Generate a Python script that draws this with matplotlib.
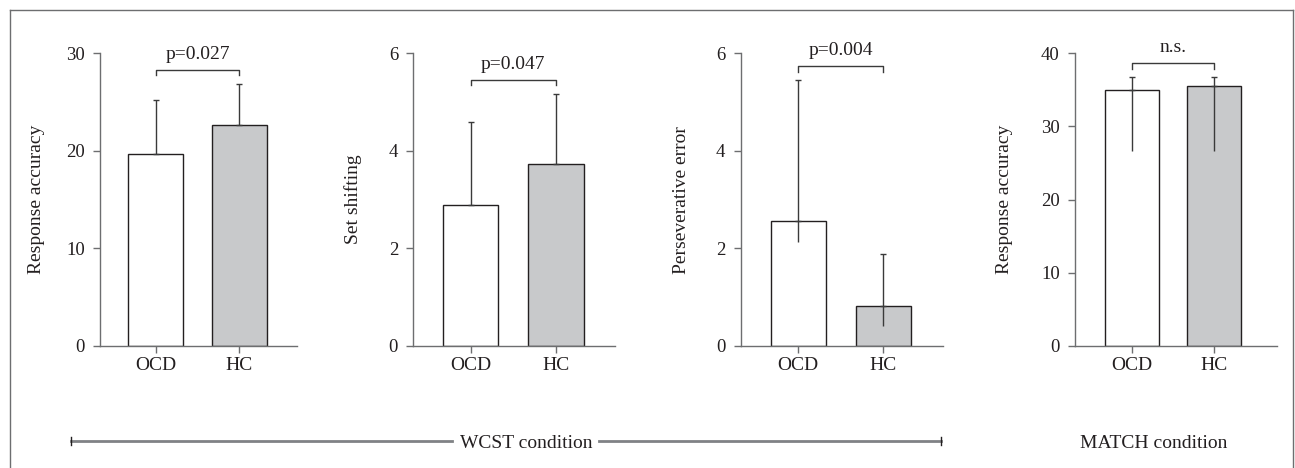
import matplotlib
matplotlib.use("Agg")
import matplotlib.pyplot as plt
import numpy as np
from matplotlib.lines import Line2D

plt.rcParams['font.family'] = ['Liberation Serif', 'DejaVu Serif']

# ---------------- data ----------------
groups = ["OCD", "HC"]
ylabels = ["Response accuracy", "Set shifting", "Perseverative error", "Response accuracy"]
p_labels = ["p=0.027", "p=0.047", "p=0.004", "n.s."]
yticks_list = [[0, 10, 20, 30], [0, 2, 4, 6], [0, 2, 4, 6], [0, 10, 20, 30, 40]]

accuracy_wcst = [19.7, 22.6]
accuracy_wcst_err_up = [5.5, 4.3]
accuracy_wcst_err_down = [0.0, 0.0]

set_shifting = [2.9, 3.73]
set_shifting_err_up = [1.7, 1.44]
set_shifting_err_down = [0.0, 0.0]

persev_error = [2.56, 0.81]
persev_error_err_up = [2.89, 1.08]
persev_error_err_down = [0.43, 0.41]

accuracy_match = [35.0, 35.5]
accuracy_match_err_up = [1.75, 1.2]
accuracy_match_err_down = [8.3, 8.9]

condition_labels = ["WCST condition", "MATCH condition"]

means = [accuracy_wcst, set_shifting, persev_error, accuracy_match]
errs_up = [accuracy_wcst_err_up, set_shifting_err_up, persev_error_err_up, accuracy_match_err_up]
errs_down = [accuracy_wcst_err_down, set_shifting_err_down, persev_error_err_down, accuracy_match_err_down]

# ---------------- layout (pixels) ----------------
W, H = 1295, 468
fig = plt.figure(figsize=(W / 100, H / 100), dpi=100)

axes_px = [(100, 297), (413.3, 615), (740.7, 942.7), (1075, 1276.7)]
xlims = [(-0.661, 1.685), (-0.669, 1.69), (-0.676, 1.70), (-0.686, 1.755)]
label_off = [55, 51.6, 50.7, 61.7]
top_px, bot_px = 53.3, 346

txt_col = "#231f20"
spine_col = "#6d6e70"
edge_col = "#231f20"
err_col = "#3a3a3a"
fills = ["white", "#c8c9cb"]
bar_w = 0.65

for i in range(4):
    l, r = axes_px[i]
    ax = fig.add_axes([l / W, (H - bot_px) / H, (r - l) / W, (bot_px - top_px) / H])
    x = np.arange(len(groups))
    ax.bar(x, means[i], width=bar_w, color=fills, edgecolor=edge_col, linewidth=1.0, zorder=2)
    ax.errorbar(x, means[i], yerr=[np.zeros(2), errs_up[i]], fmt='none', ecolor=err_col,
                elinewidth=1.0, capsize=2.2, capthick=1.0, zorder=3)
    ax.errorbar(x, means[i], yerr=[errs_down[i], np.zeros(2)], fmt='none', ecolor=err_col,
                elinewidth=1.0, capsize=0, zorder=3)
    ymax = yticks_list[i][-1]
    ax.set_ylim(0, ymax)
    ax.set_xlim(*xlims[i])
    ax.set_yticks(yticks_list[i])
    ax.set_xticks(x)
    ax.set_xticklabels(groups)
    for s in ["top", "right"]:
        ax.spines[s].set_visible(False)
    for s in ["left", "bottom"]:
        ax.spines[s].set_color(spine_col)
        ax.spines[s].set_linewidth(1.0)
    ax.tick_params(axis='y', direction='out', length=5, width=1.0, color=spine_col,
                   labelsize=13.5, labelcolor=txt_col, pad=6)
    ax.tick_params(axis='x', direction='out', length=5, width=1.0, color=spine_col,
                   labelsize=14, labelcolor=txt_col, pad=3)
    ax.set_ylabel(ylabels[i], fontsize=14, color=txt_col)
    ax.yaxis.set_label_coords(-label_off[i] / (r - l), 0.5)

    tops = np.array(means[i]) + np.array(errs_up[i])
    by = tops.max() + 0.047 * ymax
    leg = 0.018 * ymax
    ax.plot([x[0], x[0], x[1], x[1]], [by - leg, by, by, by - leg], color=err_col,
            lw=1.0, clip_on=False, zorder=4)
    ax.annotate(p_labels[i], xy=((x[0] + x[1]) / 2, by), xytext=(0, 8),
                textcoords='offset points', ha='center', va='baseline',
                fontsize=14, color=txt_col, annotation_clip=False)

# ---------------- outer frame ----------------
frame_col = "#6d6e70"
def fx(px):
    return px / W
def fy(py):
    return (H - py) / H
fig.add_artist(Line2D([fx(10), fx(10)], [fy(10), fy(470)], color=frame_col, lw=1.0))
fig.add_artist(Line2D([fx(10), fx(1293)], [fy(10), fy(10)], color=frame_col, lw=1.0))
fig.add_artist(Line2D([fx(1293), fx(1293)], [fy(10), fy(470)], color=frame_col, lw=1.0))

# ---------------- condition labels ----------------
line_y = 441
line_col = "#808285"
fig.add_artist(Line2D([fx(70.7), fx(451.7)], [fy(line_y), fy(line_y)], color=line_col, lw=2.0))
fig.add_artist(Line2D([fx(599), fx(941)], [fy(line_y), fy(line_y)], color=line_col, lw=2.0))
for xe in (70.7, 941):
    fig.add_artist(Line2D([fx(xe), fx(xe)], [fy(line_y - 4), fy(line_y + 4)], color=txt_col, lw=1.0))
fig.text(fx(526), fy(line_y), condition_labels[0], ha='center', va='center_baseline',
         fontsize=14, color=txt_col)
fig.text(fx(1153.5), fy(line_y), condition_labels[1], ha='center', va='center_baseline',
         fontsize=14, color=txt_col)

fig.savefig("out.png", dpi=100)
